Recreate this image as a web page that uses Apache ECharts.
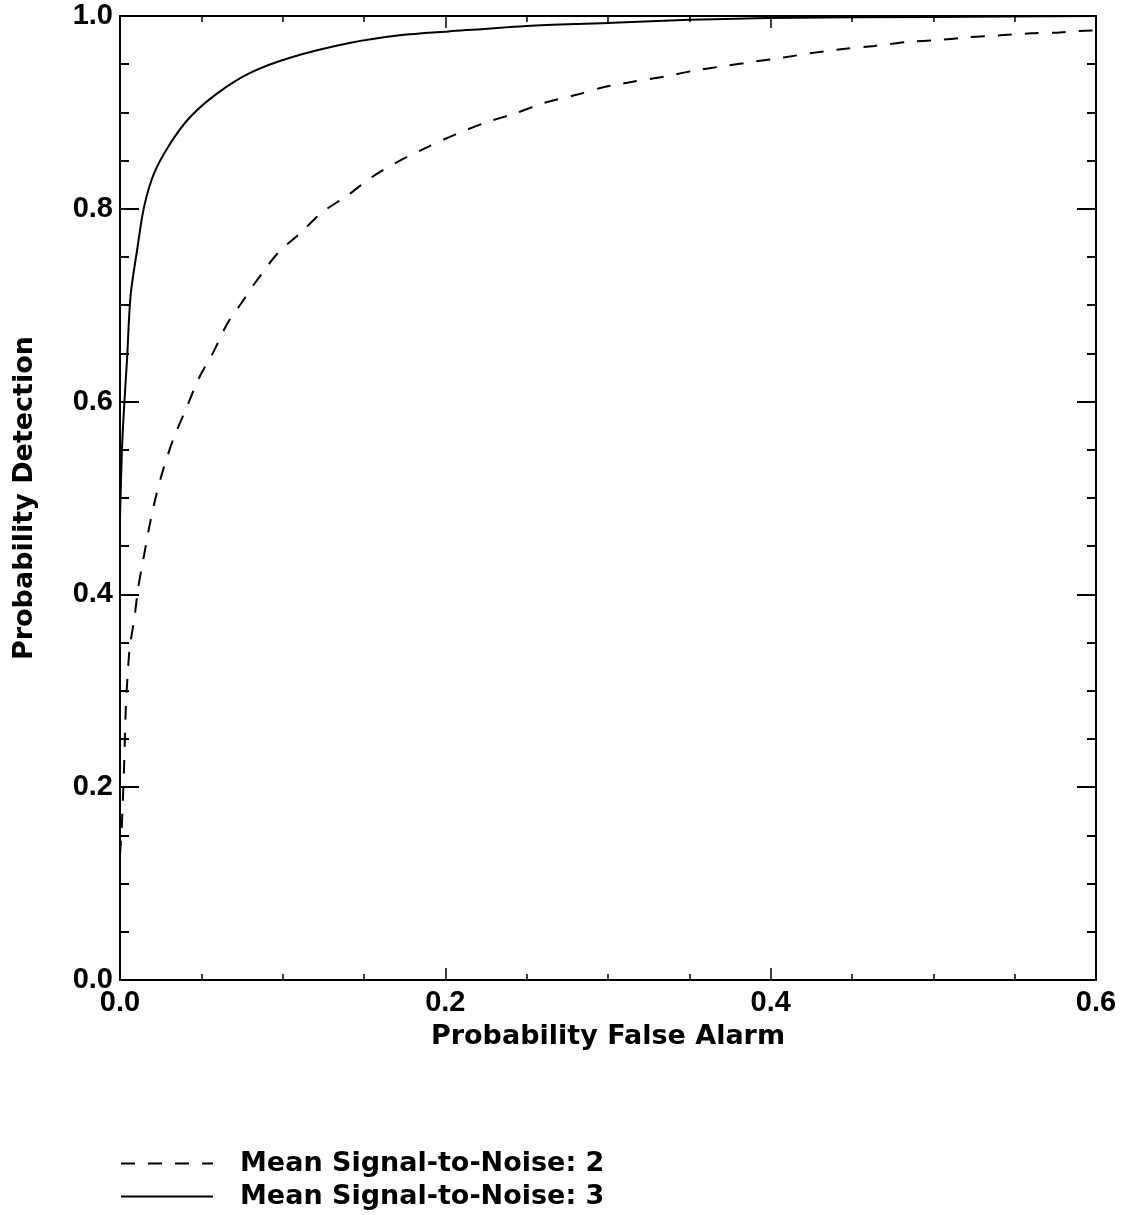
<!DOCTYPE html>
<html>
<head>
<meta charset="utf-8">
<script src="https://cdn.jsdelivr.net/npm/echarts@6/dist/echarts.min.js"></script>
<style>
html,body{margin:0;padding:0;background:#fff;}
#c{width:1121px;height:1215px;}
</style>
</head>
<body>
<div id="c"></div>
<script>
// Data
const seriesNames = ['Mean Signal-to-Noise: 2', 'Mean Signal-to-Noise: 3'];

const snr2X = [0, 0.001, 0.0025, 0.0035, 0.0045, 0.006, 0.009, 0.011, 0.0143, 0.018, 0.022, 0.027, 0.033, 0.041, 0.049, 0.057, 0.066, 0.075, 0.083, 0.097, 0.111, 0.124, 0.140, 0.155, 0.171, 0.189, 0.206, 0.224, 0.243, 0.261, 0.280, 0.297, 0.316, 0.334, 0.352, 0.371, 0.391, 0.408, 0.427, 0.446, 0.464, 0.484, 0.503, 0.522, 0.541, 0.560, 0.578, 0.597, 0.6];
const snr2Y = [0.13, 0.156, 0.221, 0.280, 0.311, 0.345, 0.377, 0.405, 0.436, 0.470, 0.501, 0.532, 0.562, 0.594, 0.626, 0.650, 0.681, 0.703, 0.723, 0.754, 0.775, 0.796, 0.814, 0.833, 0.849, 0.864, 0.877, 0.889, 0.899, 0.910, 0.918, 0.926, 0.932, 0.937, 0.943, 0.948, 0.953, 0.957, 0.962, 0.966, 0.969, 0.973, 0.975, 0.978, 0.980, 0.982, 0.983, 0.985, 0.985];

const snr3X = [0, 0.0012, 0.0025, 0.0043, 0.0065, 0.0105, 0.0148, 0.021, 0.031, 0.043, 0.060, 0.080, 0.105, 0.141, 0.172, 0.202, 0.253, 0.303, 0.35, 0.40, 0.5, 0.6];
const snr3Y = [0.48, 0.55, 0.594, 0.643, 0.71, 0.757, 0.802, 0.837, 0.868, 0.895, 0.920, 0.941, 0.957, 0.972, 0.980, 0.984, 0.990, 0.993, 0.996, 0.998, 0.999, 1.0];

const xTicks = {min: 0, max: 0.6, interval: 0.2};
const yTicks = {min: 0, max: 1.0, interval: 0.2};

function pairs(xs, ys) { return xs.map((x, i) => [x, ys[i]]); }

const TICKFONT = '"Liberation Sans", Arial, Helvetica, sans-serif';
const NAMEFONT = '"DejaVu Sans", Verdana, sans-serif';
const chart = echarts.init(document.getElementById('c'), null, {renderer: 'canvas'});

const axisLineStyle = {color: '#000', width: 2};
function xAxisCfg(pos, showLabels) {
  return {
    type: 'value', position: pos, min: xTicks.min, max: xTicks.max, interval: xTicks.interval,
    axisLine: {show: true, onZero: false, lineStyle: axisLineStyle},
    axisTick: {show: true, inside: true, length: 12, lineStyle: {color: '#000', width: 1.5}},
    minorTick: {show: true, splitNumber: 4, length: 6, lineStyle: {color: '#000', width: 1.5}},
    splitLine: {show: false},
    axisLabel: {show: showLabels, margin: 8, color: '#000', fontFamily: TICKFONT, fontWeight: 'bold', fontSize: 29,
      formatter: v => v.toFixed(1)},
    name: showLabels ? 'Probability False Alarm' : '',
    nameLocation: 'middle', nameGap: 43,
    nameTextStyle: {color: '#000', fontFamily: NAMEFONT, fontWeight: 'bold', fontSize: 27}
  };
}
function yAxisCfg(pos, showLabels) {
  return {
    type: 'value', position: pos, min: yTicks.min, max: yTicks.max, interval: yTicks.interval,
    axisLine: {show: true, onZero: false, lineStyle: axisLineStyle},
    axisTick: {show: true, inside: true, length: 19, lineStyle: {color: '#000', width: 2}},
    minorTick: {show: true, splitNumber: 4, length: 9, lineStyle: {color: '#000', width: 2}},
    splitLine: {show: false},
    axisLabel: {show: showLabels, margin: 7, color: '#000', fontFamily: TICKFONT, fontWeight: 'bold', fontSize: 29,
      formatter: v => v.toFixed(1)},
    name: showLabels ? 'Probability Detection' : '',
    nameLocation: 'middle', nameGap: 82, nameRotate: 90,
    nameTextStyle: {color: '#000', fontFamily: NAMEFONT, fontWeight: 'bold', fontSize: 27}
  };
}

function legendCfg(name, top) {
  return {
    orient: 'horizontal', left: 115, top: top,
    itemWidth: 92, itemHeight: 20,
    itemStyle: {color: 'rgba(0,0,0,0)', borderWidth: 0, opacity: 0},
    textStyle: {color: '#000', fontFamily: NAMEFONT, fontWeight: 'bold', fontSize: 27, padding: [0, 0, 0, 22]},
    data: [name]
  };
}

chart.setOption({
  animation: false,
  backgroundColor: '#fff',
  grid: {left: 120, right: 25, top: 16, bottom: 235, containLabel: false},
  xAxis: [xAxisCfg('bottom', true), xAxisCfg('top', false)],
  yAxis: [yAxisCfg('left', true), yAxisCfg('right', false)],
  legend: [legendCfg(seriesNames[0], 1145), legendCfg(seriesNames[1], 1178)],
  series: [
    {
      name: seriesNames[0], type: 'line', xAxisIndex: 0, yAxisIndex: 0,
      data: pairs(snr2X, snr2Y), showSymbol: false, symbol: 'none',
      smooth: 0.3,
      lineStyle: {color: '#000', width: 2, type: [14, 13]},
      itemStyle: {color: '#000'}
    },
    {
      name: seriesNames[1], type: 'line', xAxisIndex: 0, yAxisIndex: 0,
      data: pairs(snr3X, snr3Y), showSymbol: false, symbol: 'none',
      smooth: 0.3,
      lineStyle: {color: '#000', width: 2, type: 'solid'},
      itemStyle: {color: '#000'}
    }
  ]
});
</script>
</body>
</html>
